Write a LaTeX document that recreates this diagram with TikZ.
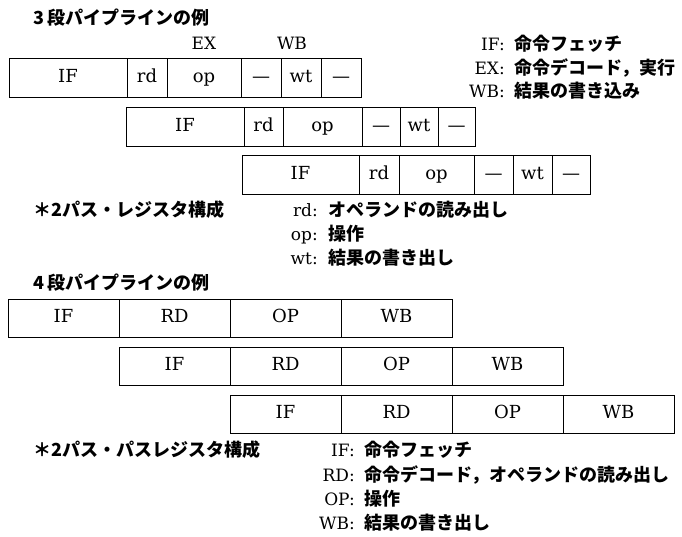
\documentclass[tikz,border=0pt]{standalone}
\usepackage{fontspec}
\setmainfont{DejaVu Serif}
\newfontfamily\jp{Noto Sans CJK JP}
\begin{document}
\begin{tikzpicture}[x=1pt,y=-1pt,
  cell/.style={draw, line width=0.9pt, rectangle, inner sep=0pt, outer sep=0pt,
    minimum height=39pt, anchor=west, text height=13pt, text depth=4pt,
    font=\fontsize{18}{20}\selectfont},
  cellb/.style={cell, minimum height=38pt},
  jptext/.style={font=\jp\bfseries\fontsize{18}{20}\selectfont, inner sep=0pt},
  lat/.style={font=\fontsize{17}{20}\selectfont, inner sep=0pt}]
\useasboundingbox (0,0) rectangle (682,536);

% ---- 3-stage pipeline ----
\node[jptext, anchor=mid west] (t1) at (33,22) {3\,段パイプラインの例};
\node[lat, anchor=mid] (hex) at (204,47) {EX};
\node[lat, anchor=mid] (hwb) at (292,47) {WB};

\node[cell, minimum width=118pt] (a1) at (9,78) {IF};
\node[cell, minimum width=40pt] (a2) at (a1.east) {rd};
\node[cell, minimum width=74pt] (a3) at (a2.east) {op};
\node[cell, minimum width=40pt] (a4) at (a3.east) {—};
\node[cell, minimum width=40pt] (a5) at (a4.east) {wt};
\node[cell, minimum width=40pt] (a6) at (a5.east) {—};

\node[cell, minimum width=118pt] (b1) at (126,127) {IF};
\node[cell, minimum width=39pt] (b2) at (b1.east) {rd};
\node[cell, minimum width=79pt] (b3) at (b2.east) {op};
\node[cell, minimum width=38pt] (b4) at (b3.east) {—};
\node[cell, minimum width=38pt] (b5) at (b4.east) {wt};
\node[cell, minimum width=37pt] (b6) at (b5.east) {—};

\node[cell, minimum width=117pt] (c1) at (242,175) {IF};
\node[cell, minimum width=40pt] (c2) at (c1.east) {rd};
\node[cell, minimum width=75pt] (c3) at (c2.east) {op};
\node[cell, minimum width=39pt] (c4) at (c3.east) {—};
\node[cell, minimum width=39pt] (c5) at (c4.east) {wt};
\node[cell, minimum width=38pt] (c6) at (c5.east) {—};

% legend top right
\node[lat, anchor=mid east] (lif) at (505,48) {IF:};
\node[jptext, anchor=mid west] (jif) at (514,48) {命令フェッチ};
\node[lat, anchor=mid east] (lex) at (505,72) {EX:};
\node[jptext, anchor=mid west] (jex) at (514,72) {命令デコード，実行};
\node[lat, anchor=mid east] (lwb) at (505,95) {WB:};
\node[jptext, anchor=mid west] (jwb) at (514,95) {結果の書き込み};

\node[jptext, anchor=mid west] (n1) at (33,214) {＊2パス・レジスタ構成};
\node[lat, anchor=mid east] (lrd) at (318,214) {rd:};
\node[jptext, anchor=mid west] (jrd) at (328,214) {オペランドの読み出し};
\node[lat, anchor=mid east] (lop) at (318,238) {op:};
\node[jptext, anchor=mid west] (jop) at (328,238) {操作};
\node[lat, anchor=mid east] (lwt) at (318,262) {wt:};
\node[jptext, anchor=mid west] (jwt) at (328,262) {結果の書き出し};

% ---- 4-stage pipeline ----
\node[jptext, anchor=mid west] (t2) at (33,287) {4\,段パイプラインの例};

\node[cellb, minimum width=111pt] (d1) at (8,318) {IF};
\node[cellb, minimum width=111pt] (d2) at (d1.east) {RD};
\node[cellb, minimum width=111pt] (d3) at (d2.east) {OP};
\node[cellb, minimum width=111pt] (d4) at (d3.east) {WB};

\node[cellb, minimum width=111pt] (e1) at (119,366) {IF};
\node[cellb, minimum width=111pt] (e2) at (e1.east) {RD};
\node[cellb, minimum width=111pt] (e3) at (e2.east) {OP};
\node[cellb, minimum width=111pt] (e4) at (e3.east) {WB};

\node[cellb, minimum width=111pt] (f1) at (230,414) {IF};
\node[cellb, minimum width=111pt] (f2) at (f1.east) {RD};
\node[cellb, minimum width=111pt] (f3) at (f2.east) {OP};
\node[cellb, minimum width=111pt] (f4) at (f3.east) {WB};

\node[jptext, anchor=mid west] (n2) at (33,454) {＊2パス・パスレジスタ構成};
\node[lat, anchor=mid east] (lif2) at (355,454) {IF:};
\node[jptext, anchor=mid west] (jif2) at (364,454) {命令フェッチ};
\node[lat, anchor=mid east] (lrd2) at (355,479) {RD:};
\node[jptext, anchor=mid west] (jrd2) at (364,479) {命令デコード，オペランドの読み出し};
\node[lat, anchor=mid east] (lop2) at (355,503) {OP:};
\node[jptext, anchor=mid west] (jop2) at (364,503) {操作};
\node[lat, anchor=mid east] (lwb2) at (355,527) {WB:};
\node[jptext, anchor=mid west] (jwb2) at (364,527) {結果の書き出し};
\end{tikzpicture}
\end{document}
